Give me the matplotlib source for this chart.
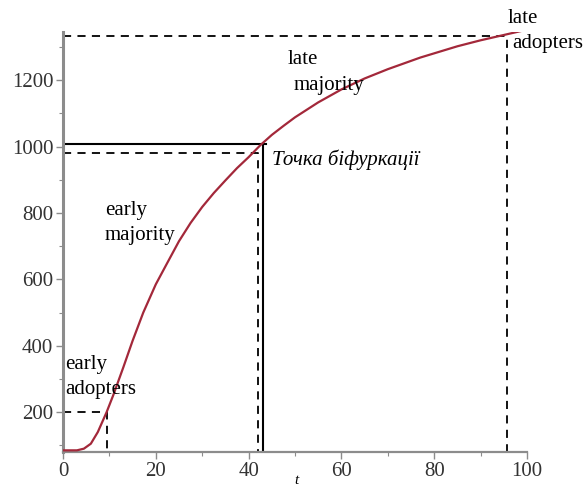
"""Adoption curve with the bifurcation point marked (Maple-style plot)."""

import matplotlib

matplotlib.use("Agg")
import matplotlib.pyplot as plt
from matplotlib.ticker import MultipleLocator

# curve
t_vals = [0, 3, 4.5, 6, 7.5, 9.4, 10.8, 13, 15, 17.3, 20, 22.3, 25, 27.5, 30,
          32.5, 35, 37.5, 40, 42.6, 45, 47.5, 50, 55, 60, 65, 70, 77, 85, 90,
          95, 100]
n_vals = [85, 85, 90, 105, 140, 200, 250, 335, 415, 500, 585, 645, 715, 770,
          818, 860, 898, 935, 968, 1005, 1035, 1062, 1088, 1133, 1172, 1205,
          1233, 1268, 1302, 1320, 1336, 1352]

# guide lines: (t, n) corners
dashed_corners = [(9.4, 200), (42.1, 982), (95.6, 1332)]
solid_corner = (43.2, 1007)

x_ticks = [0, 20, 40, 60, 80, 100]
y_ticks = [200, 400, 600, 800, 1000, 1200]

labels = [
    ("early", 0.4, 330), ("adopters", 0.4, 255),
    ("early", 9.0, 795), ("majority", 9.0, 718),
    ("late", 48.5, 1248), ("majority", 49.6, 1171),
    ("late", 95.8, 1372), ("adopters", 96.9, 1296),
]
bif_label = "Точка біфуркації"

Y_MIN = 80
SERIF = ["Liberation Serif", "DejaVu Serif"]
AXIS_GREY = "#8c8c8c"

fig = plt.figure(figsize=(5.84, 4.88), dpi=100)
ax = fig.add_axes([63 / 584, 1 - 452 / 488, 464 / 584, 420 / 488])

ax.plot(t_vals, n_vals, color="#a3283a", linewidth=1.6, zorder=3,
        solid_capstyle="round", solid_joinstyle="round")

for tx, ny in dashed_corners:
    ax.plot([0, tx, tx], [ny, ny, Y_MIN], color="black", linewidth=1.3,
            linestyle=(0, (4.5, 3.5)), zorder=2)
sx, sy = solid_corner
ax.plot([0, sx + 0.6], [sy, sy], color="black", linewidth=1.5, zorder=2)
ax.plot([sx, sx], [sy, Y_MIN], color="black", linewidth=1.5, zorder=2)

for text, tx, ny in labels:
    ax.text(tx, ny, text, fontsize=15, family=SERIF, ha="left", va="baseline",
            clip_on=False)
ax.text(45.0, 945, bif_label, fontsize=15, family=SERIF, style="italic",
        ha="left", va="baseline")

ax.set_xlim(0, 100)
ax.set_ylim(Y_MIN, 1345)
ax.set_xticks(x_ticks)
ax.set_yticks(y_ticks)
ax.xaxis.set_minor_locator(MultipleLocator(10))
ax.yaxis.set_minor_locator(MultipleLocator(100))

for side in ("top", "right"):
    ax.spines[side].set_visible(False)
ax.spines["left"].set_color(AXIS_GREY)
ax.spines["left"].set_linewidth(2.2)
ax.spines["bottom"].set_color(AXIS_GREY)
ax.spines["bottom"].set_linewidth(1.6)

ax.tick_params(which="major", length=5, width=1.0, color=AXIS_GREY,
               labelsize=15, labelcolor="#333333", pad=2)
ax.tick_params(which="minor", length=3, width=0.8, color=AXIS_GREY)
for lab in ax.get_xticklabels() + ax.get_yticklabels():
    lab.set_family(SERIF)

# x-axis name sits right at the bottom edge of the picture
fig.text(296 / 584, 1 / 488, "t", fontsize=11, family=SERIF,
         style="italic", ha="center", va="bottom")

fig.savefig("out.png", dpi=100)
